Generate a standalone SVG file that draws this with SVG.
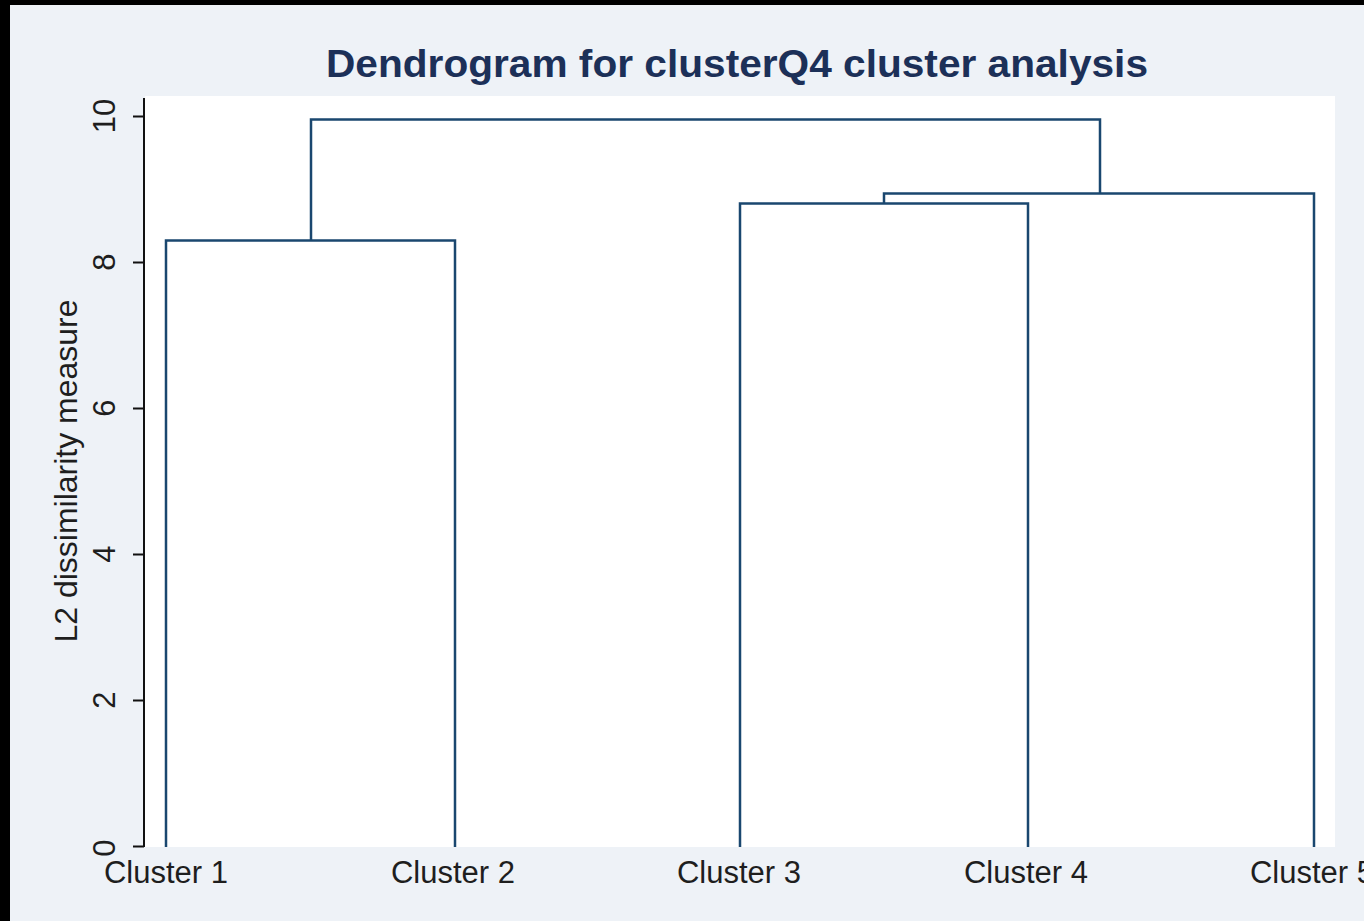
<svg xmlns="http://www.w3.org/2000/svg" width="1364" height="921" viewBox="0 0 1364 921">
  <style>
    .title { font-family: "Liberation Sans", Arial, sans-serif; font-weight: bold; font-size: 39px; fill: #1c3058; }
    .lbl { font-family: "Liberation Sans", Arial, sans-serif; font-size: 31px; fill: #1e1e1e; }
    .axis { stroke: #111; stroke-width: 2; fill: none; }
    .link { stroke: #1a476f; stroke-width: 2.5; fill: none; stroke-linejoin: miter; }
  </style>

  <!-- frame and graph region -->
  <rect x="0" y="0" width="1364" height="921" fill="#000"/>
  <rect x="10" y="5" width="1354" height="916" fill="#eef2f7"/>
  <!-- plot region -->
  <rect x="145" y="96" width="1190" height="751" fill="#ffffff"/>

  <text class="title" x="737" y="77" text-anchor="middle" textLength="822" lengthAdjust="spacingAndGlyphs">Dendrogram for clusterQ4 cluster analysis</text>

  <!-- y axis -->
  <g id="y-axis">
    <path class="axis" d="M144,98 V847 M133,116.5 H144 M133,262.5 H144 M133,408.5 H144 M133,554.5 H144 M133,700.5 H144 M133,846.5 H144"/>
    <text class="lbl" transform="translate(115,116) rotate(-90)" text-anchor="middle">10</text>
    <text class="lbl" transform="translate(115,262) rotate(-90)" text-anchor="middle">8</text>
    <text class="lbl" transform="translate(115,408) rotate(-90)" text-anchor="middle">6</text>
    <text class="lbl" transform="translate(115,554) rotate(-90)" text-anchor="middle">4</text>
    <text class="lbl" transform="translate(115,700) rotate(-90)" text-anchor="middle">2</text>
    <text class="lbl" transform="translate(115,848) rotate(-90)" text-anchor="middle">0</text>
    <text class="lbl" transform="translate(77,471) rotate(-90)" text-anchor="middle" textLength="343" lengthAdjust="spacingAndGlyphs">L2 dissimilarity measure</text>
  </g>

  <!-- leaves -->
  <g id="cluster-1"><text class="lbl" x="166" y="883" text-anchor="middle">Cluster 1</text></g>
  <g id="cluster-2"><text class="lbl" x="453" y="883" text-anchor="middle">Cluster 2</text></g>
  <g id="cluster-3"><text class="lbl" x="739" y="883" text-anchor="middle">Cluster 3</text></g>
  <g id="cluster-4"><text class="lbl" x="1026" y="883" text-anchor="middle">Cluster 4</text></g>
  <g id="cluster-5"><text class="lbl" x="1312" y="883" text-anchor="middle">Cluster 5</text></g>

  <!-- dendrogram links -->
  <g id="links">
    <path class="link" d="M166,847 V240.5 H455 V847"/>
    <path class="link" d="M740,847 V203.5 H1028 V847"/>
    <path class="link" d="M884,203.5 V193.5 H1314 V847"/>
    <path class="link" d="M311,240.5 V119.5 H1100 V193.5"/>
  </g>
</svg>
